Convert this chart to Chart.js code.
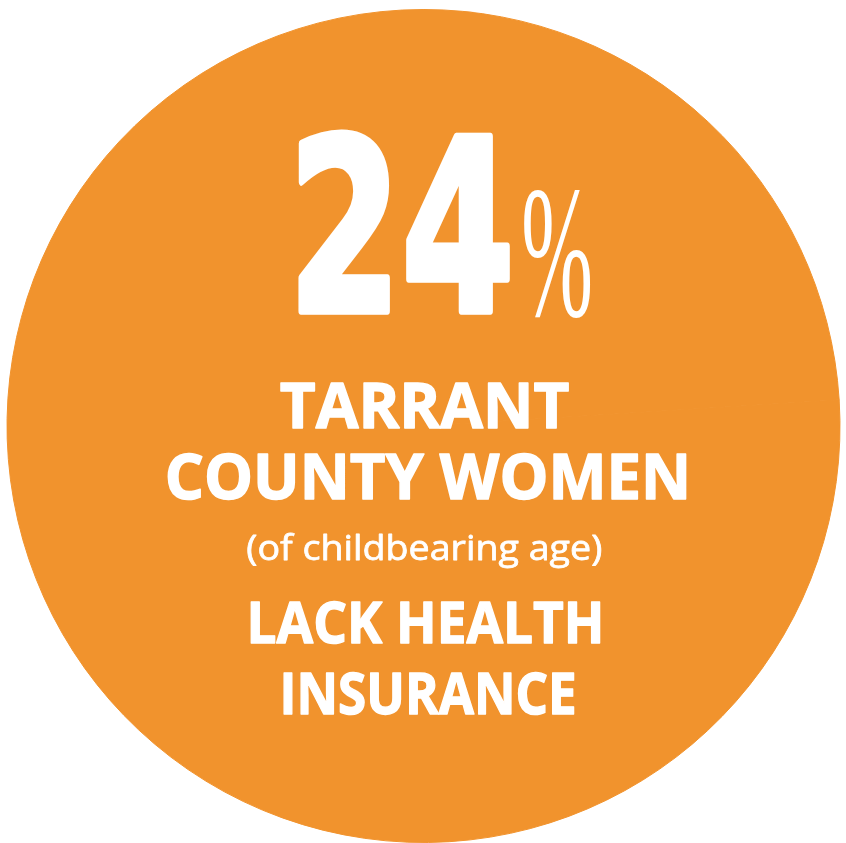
<!DOCTYPE html>
<html>
<head>
<meta charset="utf-8">
<script src="https://cdn.jsdelivr.net/npm/chart.js@4/dist/chart.umd.min.js"></script>
<style>
  html, body { margin: 0; padding: 0; background: #fff; overflow: hidden; }
  #wrap { width: 846px; height: 843px; position: relative; }
</style>
</head>
<body>
<div id="wrap"><canvas id="stat_circle"></canvas></div>
<script>
// share of Tarrant County women of childbearing age without insurance
const share_labels = ['Lack health insurance', 'Have health insurance'];
const share_values = [24, 76];
const big_number = share_values[0] + '';
const headline = ['TARRANT', 'COUNTY WOMEN'];
const subline = '(of childbearing age)';
const footline = ['LACK HEALTH', 'INSURANCE'];

const orange = 'rgb(241, 147, 45)';

// squeeze/stretch a string so its ink fills the given box
function drawFit(ctx, text, font, x0, y0, x1, y1, stroke) {
    ctx.save();
    ctx.font = font;
    ctx.textAlign = 'left';
    ctx.textBaseline = 'alphabetic';
    const m = ctx.measureText(text);
    const inkW = m.actualBoundingBoxLeft + m.actualBoundingBoxRight;
    const inkH = m.actualBoundingBoxAscent + m.actualBoundingBoxDescent;
    const pad = stroke ? stroke / 2 : 0;
    const sx = (x1 - x0) / (inkW + 2 * pad);
    const sy = (y1 - y0) / (inkH + 2 * pad);
    ctx.translate(x0, y0);
    ctx.scale(sx, sy);
    ctx.fillStyle = '#fff';
    const tx = m.actualBoundingBoxLeft + pad;
    const ty = m.actualBoundingBoxAscent + pad;
    ctx.fillText(text, tx, ty);
    if (stroke) {
        ctx.strokeStyle = '#fff';
        ctx.lineJoin = 'round';
        ctx.lineWidth = stroke;
        ctx.strokeText(text, tx, ty);
    }
    ctx.restore();
}

const labelPlugin = {
    id: 'labelPlugin',
    afterDraw(chart) {
        const ctx = chart.ctx;
        drawFit(ctx, big_number, 'bold 250px "DejaVu Sans"', 298, 130, 510, 315, 8);
        drawFit(ctx, '%', '180px "Liberation Sans Narrow"', 524, 189, 590, 318);
        drawFit(ctx, headline[0], 'bold 64px "Open Sans"', 280, 382, 569, 429, 1.5);
        drawFit(ctx, headline[1], 'bold 64px "Open Sans"', 167, 453, 687, 501, 1.5);
        drawFit(ctx, subline, '36px "Open Sans"', 247, 533, 602, 569, 0.8);
        drawFit(ctx, footline[0], 'bold 64px "Open Sans"', 250, 600, 601, 645, 1.5);
        drawFit(ctx, footline[1], 'bold 64px "Open Sans"', 283, 671, 575, 716, 1.5);
    }
};

const stat_circle = document.getElementById('stat_circle');
const stat_circle1 = new Chart(stat_circle, {
    type: 'pie',
    data: {
        labels: share_labels,
        datasets: [{
            data: share_values,
            backgroundColor: orange,
            borderColor: orange,
            borderWidth: 1,
        }]
    },
    options: {
        responsive: true,
        maintainAspectRatio: false,
        animation: false,
        events: [],
        layout: { padding: { left: 6, right: 5, top: 9, bottom: 0 } },
        plugins: {
            legend: { display: false },
            tooltip: { enabled: false },
        },
    },
    plugins: [labelPlugin],
});
</script>
</body>
</html>
